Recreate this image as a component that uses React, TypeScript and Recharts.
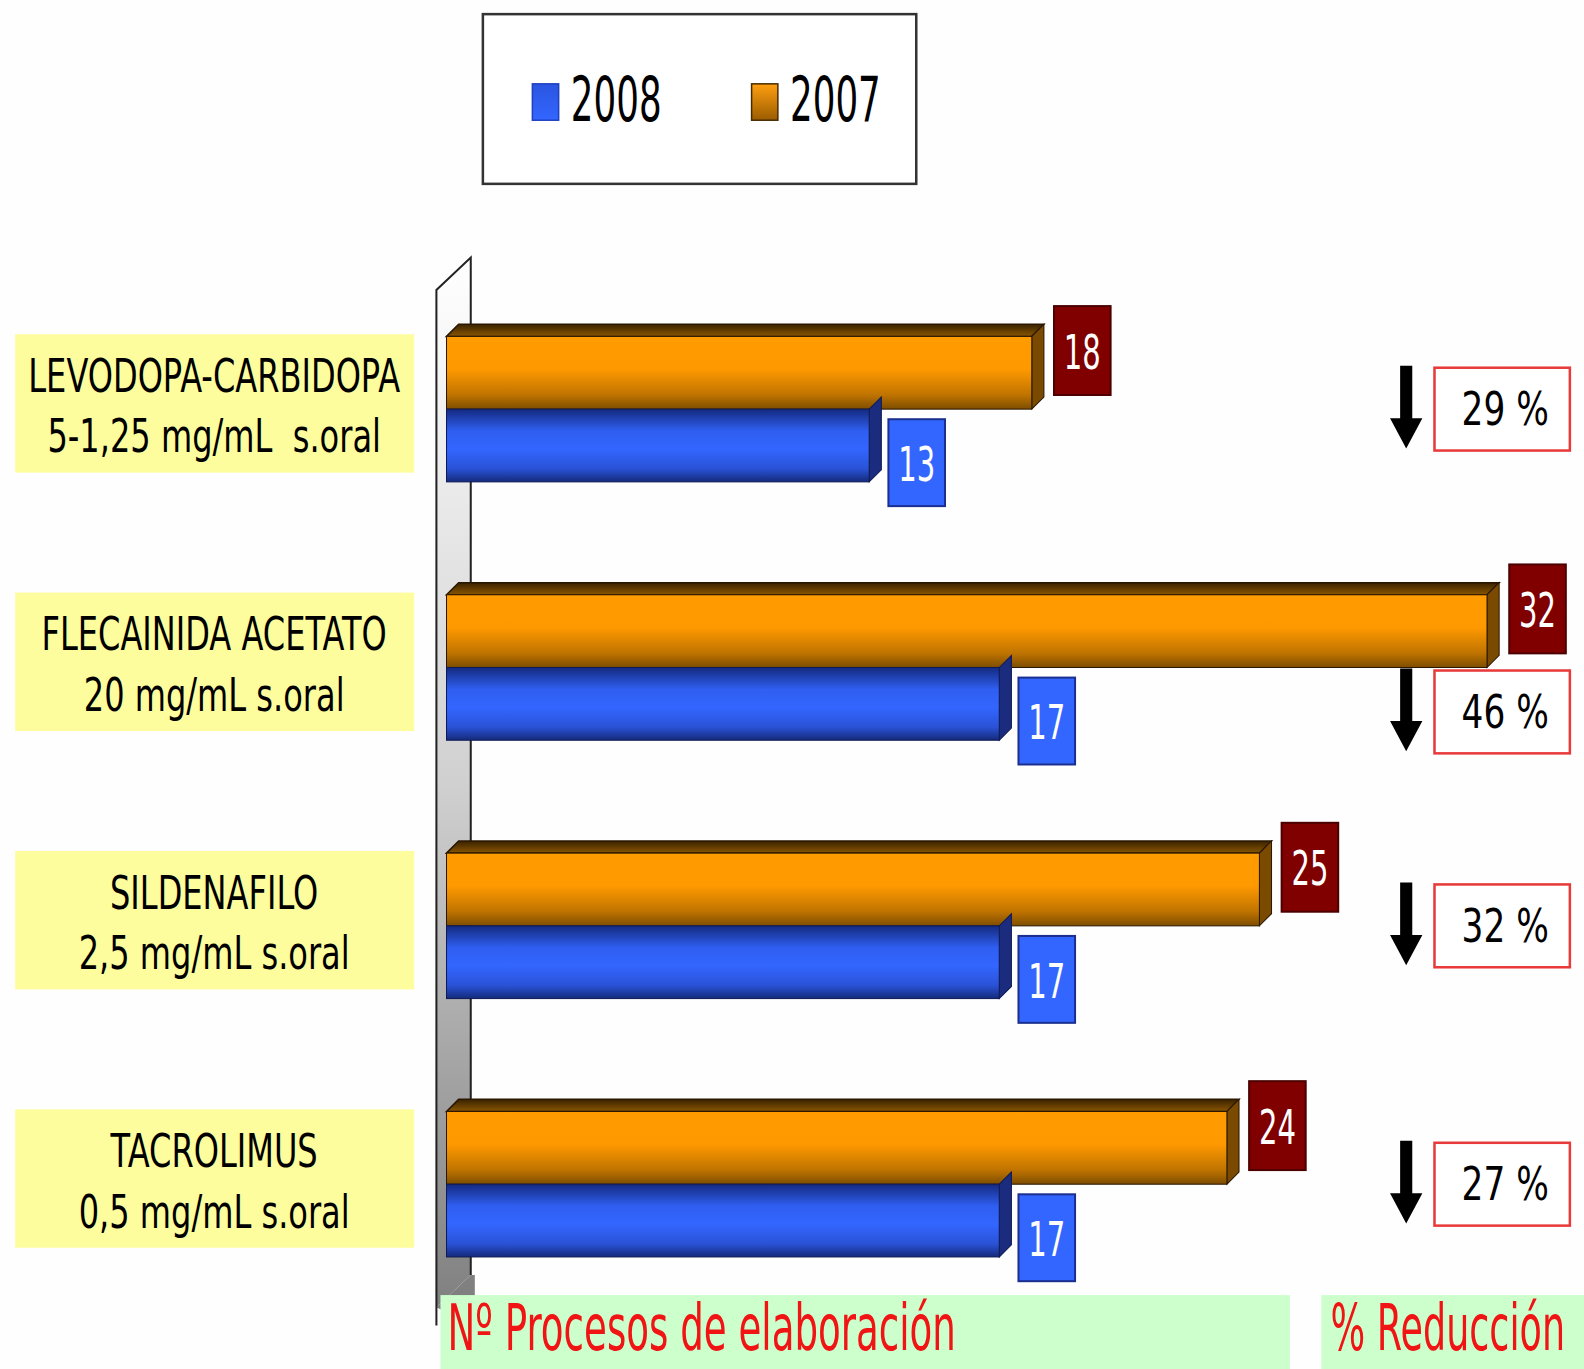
import { BarChart, Bar, XAxis, YAxis, LabelList } from "recharts";

const drugs = ["LEVODOPA-CARBIDOPA", "FLECAINIDA ACETATO", "SILDENAFILO", "TACROLIMUS"];
const doses = ["5-1,25 mg/mL  s.oral", "20 mg/mL s.oral", "2,5 mg/mL s.oral", "0,5 mg/mL s.oral"];
const values2007 = [18, 32, 25, 24];
const values2008 = [13, 17, 17, 17];
const reduction = [29, 46, 32, 27];
const legendItems = ["2008", "2007"];
const bottomTitles = ["Nº Procesos de elaboración", "% Reducción"];

const data = drugs.map((name, i) => ({
  name,
  dose: doses[i],
  y2007: values2007[i],
  y2008: values2008[i],
  pct: reduction[i],
}));

const FONT = "DejaVu Sans";
const DEPTH = 12;
const ARROW_X = 1392;
const PCT_BOX_X = 1420;
// layout was measured on a 1568px wide view of the slide
const ZOOM = 1584 / 1568;

// text squeezed horizontally, the slide font is very narrow
const SText = ({ x, y, sx, size, fill = "#000", anchor = "middle", children }: any) => (
  <g transform={`translate(${x},${y}) scale(${sx},1)`}>
    <text x={0} y={0} textAnchor={anchor} fontSize={size} fill={fill} fontFamily={FONT} style={{ whiteSpace: "pre" }}>
      {children}
    </text>
  </g>
);

const makeBar3D = (front: string, topFill: string, side: string, edge: string, drawTop: boolean) => (props: any) => {
  const { x, y, width, height } = props;
  if (!width || width <= 0) return null;
  const d = DEPTH;
  const r = x + width;
  return (
    <g>
      {drawTop && (
        <polygon
          points={`${x},${y} ${x + d},${y - d} ${r + d},${y - d} ${r},${y}`}
          fill={topFill}
          stroke={edge}
          strokeWidth={1.5}
        />
      )}
      <polygon
        points={`${r},${y} ${r + d},${y - d} ${r + d},${y + height - d} ${r},${y + height}`}
        fill={side}
        stroke={edge}
        strokeWidth={1}
      />
      <rect x={x} y={y} width={width} height={height} fill={front} stroke={edge} strokeWidth={1} />
    </g>
  );
};

const Shape2007 = makeBar3D("url(#g2007)", "url(#g2007top)", "#7a4a00", "#2a1700", true);
const Shape2008 = makeBar3D("url(#g2008)", "#1a2f85", "#1b2c7e", "#0e1a55", false);

const ValueBox = (kind: "2007" | "2008") => (props: any) => {
  const { x, y, width, value } = props;
  const end = x + width;
  const isOld = kind === "2007";
  const bx = end + (isOld ? 22 : 19);
  const by = isOld ? y - 30 : y + 10;
  const h = isOld ? 88 : 86;
  return (
    <g>
      <rect
        x={bx}
        y={by}
        width={56}
        height={h}
        fill={isOld ? "#800000" : "#3366ff"}
        stroke={isOld ? "#4d0000" : "#1a2f90"}
        strokeWidth={2}
      />
      <SText x={bx + 28} y={by + h / 2 + 18} sx={0.6} size={48} fill="#fff">
        {value}
      </SText>
    </g>
  );
};

const PctMark = (props: any) => {
  const { x, y, width, value, index } = props;
  const row = data[index ?? 0];
  const pxPerUnit = width / row.y2008;
  const orangeEnd = x + row.y2007 * pxPerUnit + DEPTH + 22 + 56;
  const shift = orangeEnd > ARROW_X - 20;
  const boxTop = shift ? y + 3 : y - 41;
  const t = boxTop - 2;
  return (
    <g>
      <polygon
        points={`${ARROW_X - 6},${t} ${ARROW_X + 6},${t} ${ARROW_X + 6},${t + 52} ${ARROW_X + 16},${t + 52} ${ARROW_X},${t + 82} ${ARROW_X - 16},${t + 52} ${ARROW_X - 6},${t + 52}`}
        fill="#000"
      />
      <rect x={PCT_BOX_X} y={boxTop} width={134} height={82} fill="#fff" stroke="#e83a3a" strokeWidth={2.5} />
      <SText x={PCT_BOX_X + 70} y={boxTop + 57} sx={0.74} size={46}>
        {`${value} %`}
      </SText>
    </g>
  );
};

const CategoryTick = (props: any) => {
  const { y, index, payload } = props;
  const i = index ?? drugs.indexOf(payload.value);
  const c = y - 6;
  return (
    <g>
      <rect x={15} y={c - 68} width={395} height={137} fill="#fdfd9e" />
      <SText x={212} y={c - 11} sx={0.69} size={46}>
        {drugs[i]}
      </SText>
      <SText x={212} y={c + 49} sx={0.69} size={46}>
        {doses[i]}
      </SText>
    </g>
  );
};

const Background = () => (
  <svg width={1584} height={1369} style={{ position: "absolute", left: 0, top: 0 }}>
    <defs>
      <linearGradient id="wall" x1="0" y1="0" x2="0" y2="1">
        <stop offset="0%" stopColor="#ffffff" />
        <stop offset="50%" stopColor="#d0d0d0" />
        <stop offset="100%" stopColor="#808080" />
      </linearGradient>
      <linearGradient id="lg2008" x1="0" y1="0" x2="0" y2="1">
        <stop offset="0%" stopColor="#2a55e0" />
        <stop offset="100%" stopColor="#3366ff" />
      </linearGradient>
      <linearGradient id="lg2007" x1="0" y1="0" x2="0" y2="1">
        <stop offset="0%" stopColor="#ff9f10" />
        <stop offset="100%" stopColor="#9a5c00" />
      </linearGradient>
    </defs>
    <rect width={1584} height={1369} fill="#fefefe" />
    {/* 3D wall behind the bars */}
    <polygon points="432,287 466,255 466,1262 432,1294" fill="url(#wall)" />
    <polygon points="432,1294 466,1262 470,1262 470,1296 436,1296" fill="#808080" />
    <polyline points="432,1312 432,287 466,255 466,1262" fill="none" stroke="#222" strokeWidth={2} />
    {/* legend */}
    <rect x={478} y={14} width={429} height={168} fill="#fff" stroke="#333" strokeWidth={2.5} />
    {legendItems.map((lab, i) => {
      const lx = i === 0 ? 527 : 744;
      return (
        <g key={lab}>
          <rect x={lx} y={83} width={26} height={36} fill={`url(#lg${lab})`} stroke={i === 0 ? "#2040c0" : "#4a2c00"} strokeWidth={1.5} />
          <SText x={lx + 38} y={120} sx={0.57} size={62} anchor="start">
            {lab}
          </SText>
        </g>
      );
    })}
    {/* bottom captions */}
    <rect x={436} y={1282} width={841} height={87} fill="#ccffcc" />
    <rect x={1308} y={1282} width={276} height={87} fill="#ccffcc" />
    <SText x={443} y={1336} sx={0.575} size={64} fill="#f01414" anchor="start">
      {bottomTitles[0]}
    </SText>
    <SText x={1317} y={1336} sx={0.565} size={64} fill="#f01414" anchor="start">
      {bottomTitles[1]}
    </SText>
  </svg>
);

export default function App() {
  return (
    <div style={{ position: "absolute", left: 0, top: 0, width: 1584, height: 1369, overflow: "hidden", background: "#fefefe" }}>
      <div style={{ position: "absolute", left: 0, top: 0, width: 1584, height: 1369, transform: `scale(${ZOOM})`, transformOrigin: "0 0" }}>
        <Background />
        <div style={{ position: "absolute", left: 0, top: 0 }}>
          <BarChart
            width={1584}
            height={1369}
            data={data}
            layout="vertical"
            margin={{ top: 277, right: 112, bottom: 69, left: 0 }}
            barCategoryGap={56}
            barGap={0}
          >
            <defs>
              <linearGradient id="g2007" x1="0" y1="0" x2="0" y2="1">
                <stop offset="0%" stopColor="#ff9c00" />
                <stop offset="45%" stopColor="#ff9900" />
                <stop offset="80%" stopColor="#c07400" />
                <stop offset="100%" stopColor="#7e4e00" />
              </linearGradient>
              <linearGradient id="g2007top" x1="0" y1="0" x2="0" y2="1">
                <stop offset="0%" stopColor="#3a2200" />
                <stop offset="100%" stopColor="#8a5600" />
              </linearGradient>
              <linearGradient id="g2008" x1="0" y1="0" x2="0" y2="1">
                <stop offset="0%" stopColor="#142a80" />
                <stop offset="30%" stopColor="#2f5ef0" />
                <stop offset="55%" stopColor="#3366ff" />
                <stop offset="82%" stopColor="#2a52d6" />
                <stop offset="100%" stopColor="#142a7a" />
              </linearGradient>
            </defs>
            <XAxis type="number" domain={[0, 32]} hide />
            <YAxis
              type="category"
              dataKey="name"
              width={442}
              axisLine={false}
              tickLine={false}
              tick={<CategoryTick />}
            />
            <Bar dataKey="y2007" shape={Shape2007} isAnimationActive={false}>
              <LabelList dataKey="y2007" content={ValueBox("2007")} />
            </Bar>
            <Bar dataKey="y2008" shape={Shape2008} isAnimationActive={false}>
              <LabelList dataKey="y2008" content={ValueBox("2008")} />
              <LabelList dataKey="pct" content={PctMark} />
            </Bar>
          </BarChart>
        </div>
      </div>
    </div>
  );
}
